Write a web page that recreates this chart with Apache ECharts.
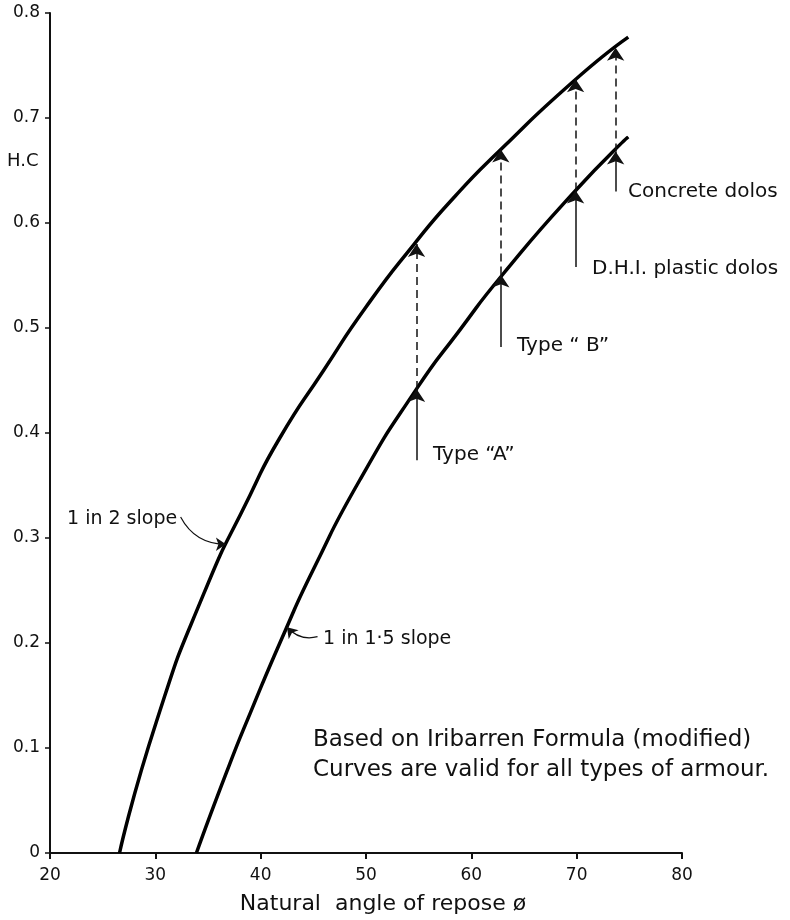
<!DOCTYPE html>
<html>
<head>
<meta charset="utf-8">
<title>H.C against natural angle of repose</title>
<script src="https://cdn.jsdelivr.net/npm/echarts@6/dist/echarts.min.js"></script>
<style>
  html, body { margin: 0; background: #fff; }
  #chart { width: 790px; height: 920px; }
</style>
</head>
<body>
<div id="chart"></div>
<script>
// values: [angle of repose, H.C]
const slope2 = [[26.6, 0], [30.1, 0.125], [34.6, 0.247], [39.0, 0.341], [41.8, 0.395],
  [46.0, 0.460], [50.0, 0.520], [54.5, 0.579], [58.5, 0.626], [62.6, 0.668],
  [69.7, 0.735], [74.9, 0.777]];
const slope15 = [[33.9, 0], [36.8, 0.078], [39.0, 0.133], [42.3, 0.211], [45.0, 0.270],
  [49.4, 0.355], [54.8, 0.442], [58.9, 0.498], [62.9, 0.550], [69.9, 0.631], [74.9, 0.682]];

// armour type markers: arrow from tail up to the 1 in 1.5 curve, dashed on to the 1 in 2 curve
const armourNames = ['Type “A”', 'Type “ B”', 'D.H.I. plastic dolos', 'Concrete dolos'];
const arrowAngle = [54.8, 62.8, 69.9, 73.7];
const arrowTail = [0.374, 0.482, 0.558, 0.630];
const lowerHit = [0.442, 0.551, 0.631, 0.668];
const upperHit = [0.580, 0.670, 0.737, 0.767];

// leaders from the curve names
const slope2Leader = [[32.4, 0.320], [36.7, 0.294]];
const slope15Leader = [[45.4, 0.206], [42.5, 0.215]];

const font = 'DejaVu Sans';

const solidArrows = arrowAngle.map((a, i) => ({ coords: [[a, arrowTail[i]], [a, lowerHit[i]]] }));
const dashedArrows = arrowAngle.map((a, i) => ({ coords: [[a, lowerHit[i]], [a, upperHit[i]]] }));

const chart = echarts.init(document.getElementById('chart'));

const txt = (text, x, y, size) => ({
  type: 'text', left: x, top: y - size * 0.4,
  style: { text: text, font: size + 'px "' + font + '"', fill: '#111' }
});

chart.setOption({
  animation: false,
  backgroundColor: '#fff',
  grid: { left: 50, right: 108, top: 13, bottom: 67, outerBoundsMode: 'none' },
  xAxis: {
    type: 'value', min: 20, max: 80, interval: 10,
    name: 'Natural  angle of repose ø', nameLocation: 'middle', nameGap: 40,
    nameTextStyle: { fontFamily: font, fontSize: 22, color: '#111', padding: [0, 0, 0, 34] },
    axisLine: { lineStyle: { color: '#111', width: 2 } },
    axisTick: { length: 6, lineStyle: { color: '#111', width: 2 } },
    axisLabel: { fontFamily: font, fontSize: 17, color: '#111', margin: 14 },
    splitLine: { show: false }
  },
  yAxis: {
    type: 'value', min: 0, max: 0.8, interval: 0.1,
    axisLine: { show: true, lineStyle: { color: '#111', width: 2 } },
    axisTick: { show: true, length: 5, lineStyle: { color: '#111', width: 1.5 } },
    axisLabel: { fontFamily: font, fontSize: 17, color: '#111', margin: 10,
      formatter: v => v === 0 ? '0' : v.toFixed(1) },
    splitLine: { show: false }
  },
  series: [
    { name: '1 in 2 slope', type: 'line', data: slope2, smooth: 0.6,
      showSymbol: false, lineStyle: { color: '#000', width: 3.5 } },
    { name: '1 in 1.5 slope', type: 'line', data: slope15, smooth: 0.6,
      showSymbol: false, lineStyle: { color: '#000', width: 3.5 } },
    { type: 'lines', coordinateSystem: 'cartesian2d', data: solidArrows, z: 5,
      symbol: ['none', 'arrow'], symbolSize: [5, 13],
      lineStyle: { color: '#111', width: 1.5, opacity: 1 } },
    { type: 'lines', coordinateSystem: 'cartesian2d', data: dashedArrows, z: 5,
      symbol: ['none', 'arrow'], symbolSize: [5, 13],
      lineStyle: { color: '#111', width: 1.5, type: [8, 5], opacity: 1 } },
    { type: 'lines', coordinateSystem: 'cartesian2d', z: 5,
      data: [{ coords: slope2Leader, lineStyle: { curveness: -0.3 } },
             { coords: slope15Leader, lineStyle: { curveness: 0.3 } }],
      symbol: ['none', 'arrow'], symbolSize: [5, 10],
      lineStyle: { color: '#111', width: 1.2, opacity: 1 } }
  ],
  graphic: [
    txt('H.C', 7, 160, 18),
    txt(armourNames[0], 433, 453, 20),
    txt(armourNames[1], 517, 344, 20),
    txt(armourNames[2], 592, 267, 20),
    txt(armourNames[3], 628, 190, 20),
    txt('1 in 2 slope', 67, 517, 19),
    txt('1 in 1·5 slope', 323, 637, 19),
    txt('Based on Iribarren Formula (modified)', 313, 738, 23),
    txt('Curves are valid for all types of armour.', 313, 768, 23)
  ]
});
</script>
</body>
</html>
